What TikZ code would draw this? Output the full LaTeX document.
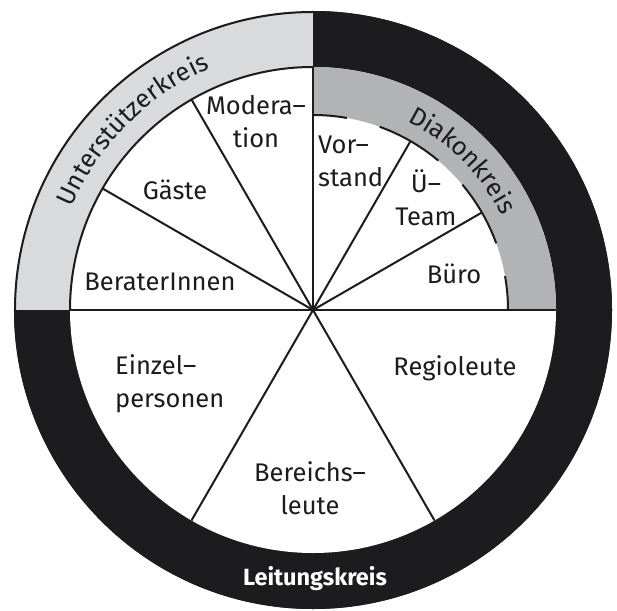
\documentclass[tikz,border=0pt]{standalone}
\usepackage{fontspec}
\setmainfont{Fira Sans}
\usetikzlibrary{decorations.text}
\definecolor{lgray}{RGB}{217,218,219}
\definecolor{dgray}{RGB}{178,179,181}
\definecolor{blk}{RGB}{28,27,30}
\begin{document}
\begin{tikzpicture}[x=1pt,y=1pt,
  lbl/.style={font=\fontsize{25.5}{33}\selectfont, inner sep=0pt, text=blk},
  spoke/.style={line width=2pt, draw=blk}]
\useasboundingbox (-313,-300) rectangle (304,310);
% outer ring quadrants
\fill[lgray] (0,0) -- (180:299) arc[start angle=180,end angle=90,radius=299] -- cycle;
\fill[blk] (0,0) -- (90:299) arc[start angle=90,end angle=0,radius=299] -- cycle;
\fill[blk] (180:299) arc[start angle=180,end angle=360,radius=299] -- cycle;
\draw[blk, line width=2pt] (0,0) circle[radius=298];
% inner white disc
\fill[white] (0,0) circle[radius=243];
% Diakonkreis ring
\fill[dgray] (0:243) arc[start angle=0,end angle=90,radius=243] -- (90:195) arc[start angle=90,end angle=0,radius=195] -- cycle;
\draw[blk, line width=2pt] (90:243) arc[start angle=90,end angle=180,radius=243];
% dashed inner edge of Diakonkreis
\foreach \a/\b in {90/80, 70/50, 40/20, 10/0}
  \draw[blk, line width=2pt] (\a:195) arc[start angle=\a,end angle=\b,radius=195];
% spokes
\coordinate (c) at (0,0);
\coordinate (p0) at (0:243);
\coordinate (p30) at (30:195);
\coordinate (p60) at (60:195);
\coordinate (p90) at (90:243);
\coordinate (p120) at (120:243);
\coordinate (p150) at (150:243);
\coordinate (p180) at (180:243);
\coordinate (p240) at (240:243);
\coordinate (p300) at (300:243);
\foreach \p in {p0,p30,p60,p90,p120,p150,p180,p240,p300}
  \draw[spoke] (c) -- (\p);
% labels
\node[lbl, align=center] (moderation) at (-57,188) {Modera–\\tion};
\node[lbl] (gaeste) at (-138,120) {Gäste};
\node[lbl] (berater) at (-153,28) {BeraterInnen};
\node[lbl, align=left, anchor=west] (vorstand) at (5,149) {Vor–\\stand};
\node[lbl, align=center] (uteam) at (113,112) {Ü–\\Team};
\node[lbl] (buero) at (141,36) {Büro};
\node[lbl] (regio) at (142,-58) {Regioleute};
\node[lbl, align=left, anchor=west] (einzel) at (-198,-74) {Einzel–\\personen};
\node[lbl, align=center] (bereich) at (-3,-178) {Bereichs–\\leute};
\node[font=\fontsize{23.5}{28}\selectfont\bfseries, text=white, inner sep=0pt] (leitung) at (2,-269) {Leitungskreis};
% curved ring labels
\path[decorate, decoration={text along path, text align=center,
  text={|\fontsize{25.5}{30}\selectfont\color{blk}|Unterstützerkreis}}]
  (170:262) arc[start angle=170,end angle=100,radius=262];
\path[decorate, decoration={text along path, text align=center,
  text={|\fontsize{25.5}{30}\selectfont\color{blk}|Diakonkreis}}]
  (80:211) arc[start angle=80,end angle=10,radius=211];
\end{tikzpicture}
\end{document}
